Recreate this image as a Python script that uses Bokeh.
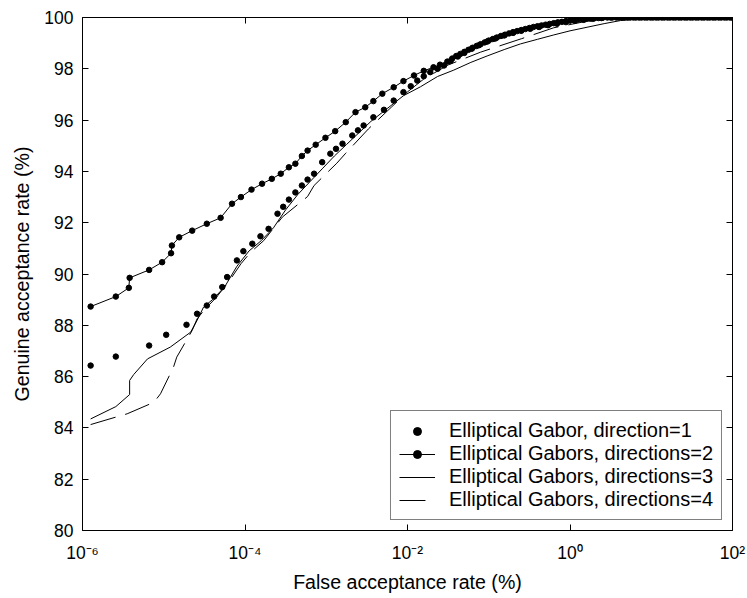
from bokeh.plotting import figure
from bokeh.models import Range1d, FixedTicker, LinearAxis, LogAxis, Legend, LegendItem
from bokeh.embed import file_html
from bokeh.resources import INLINE

# ---------------- data ----------------
x_ticks = [1e-6, 1e-4, 1e-2, 1e0, 1e2]
x_tick_labels = ["10\u207b\u2076", "10\u207b\u2074", "10\u207b\u00b2", "10\u2070", "10\u00b2"]
y_ticks = [80, 82, 84, 86, 88, 90, 92, 94, 96, 98, 100]

# Series 1: Elliptical Gabor, direction=1 (markers only) -- log10(FAR %) and GAR %
s1_exp = [-5.90, -5.59, -5.18, -4.97, -4.72, -4.59, -4.47, -4.38, -4.28, -4.22,
          -4.10, -4.02, -3.91, -3.81, -3.71, -3.60, -3.53, -3.46, -3.38, -3.30,
          -3.23, -3.15, -3.05, -2.95, -2.88, -2.80, -2.68, -2.61, -2.54, -2.42,
          -2.29, -2.17, -2.05, -1.96, -1.88, -1.80, -1.72, -1.63, -1.55, -1.47,
          -1.38, -1.30, -1.21, -1.12, -1.02, -0.92, -0.81, -0.70, -0.60, -0.49,
          -0.38, -0.27, -0.16, -0.05, 0.06, 0.17, 0.28, 0.39, 0.50, 0.57,
          0.64, 0.71, 0.78, 0.85, 0.92, 0.99, 1.06, 1.13, 1.20, 1.27,
          1.34, 1.41, 1.48, 1.55, 1.62, 1.69, 1.76, 1.83, 1.90, 1.97, 2.00]
s1_gar = [86.43, 86.78, 87.21, 87.63, 88.02, 88.45, 88.77, 89.12, 89.49, 89.88,
          90.53, 90.89, 91.18, 91.47, 91.76, 92.35, 92.62, 92.90, 93.18, 93.45,
          93.68, 93.91, 94.36, 94.69, 94.88, 95.08, 95.40, 95.60, 95.79, 96.11,
          96.40, 96.76, 97.09, 97.32, 97.54, 97.71, 97.87, 98.00, 98.13, 98.30,
          98.48, 98.62, 98.78, 98.92, 99.06, 99.18, 99.30, 99.40, 99.48, 99.56,
          99.63, 99.70, 99.76, 99.82, 99.87, 99.91, 99.95, 99.98, 100.0, 100.0,
          100.0, 100.0, 100.0, 100.0, 100.0, 100.0, 100.0, 100.0, 100.0, 100.0,
          100.0, 100.0, 100.0, 100.0, 100.0, 100.0, 100.0, 100.0, 100.0, 100.0, 100.0]

# Series 2: Elliptical Gabors, directions=2 (line + markers)
s2_exp = [-5.90, -5.59, -5.43, -5.42, -5.18, -5.02, -4.91, -4.90, -4.81, -4.65,
          -4.47, -4.30, -4.16, -4.05, -3.92, -3.79, -3.67, -3.56, -3.46, -3.38,
          -3.30, -3.23, -3.13, -3.01, -2.89, -2.76, -2.64, -2.52, -2.42, -2.31,
          -2.17, -2.05, -1.92, -1.80, -1.68, -1.60, -1.51, -1.45, -1.40, -1.35,
          -1.30, -1.25, -1.20, -1.15, -1.10, -1.05, -1.00, -0.95, -0.90, -0.85,
          -0.80, -0.75, -0.70, -0.65, -0.60, -0.55, -0.50, -0.45, -0.40, -0.35,
          -0.30, -0.25, -0.20, -0.15, -0.10, -0.05, 0.00, 0.05, 0.10, 0.15,
          0.20, 0.25, 0.30, 0.35, 0.40, 0.46, 0.52, 0.60, 0.67, 0.74,
          0.81, 0.88, 0.95, 1.02, 1.09, 1.16, 1.23, 1.30, 1.37, 1.44,
          1.51, 1.58, 1.65, 1.72, 1.79, 1.86, 1.93, 2.00]
s2_gar = [88.73, 89.12, 89.46, 89.85, 90.16, 90.46, 90.81, 91.11, 91.43, 91.69,
          91.96, 92.19, 92.74, 93.00, 93.29, 93.52, 93.71, 93.91, 94.16, 94.30,
          94.60, 94.81, 95.04, 95.31, 95.57, 95.92, 96.31, 96.50, 96.74, 97.03,
          97.28, 97.52, 97.74, 97.92, 98.06, 98.16, 98.28, 98.40, 98.50, 98.58,
          98.66, 98.74, 98.82, 98.89, 98.96, 99.03, 99.10, 99.16, 99.22, 99.28,
          99.33, 99.38, 99.43, 99.47, 99.51, 99.55, 99.59, 99.63, 99.66, 99.69,
          99.72, 99.75, 99.78, 99.81, 99.83, 99.86, 99.88, 99.90, 99.92, 99.94,
          99.95, 99.96, 99.97, 99.98, 99.99, 100.0, 100.0, 100.0, 100.0, 100.0,
          100.0, 100.0, 100.0, 100.0, 100.0, 100.0, 100.0, 100.0, 100.0, 100.0,
          100.0, 100.0, 100.0, 100.0, 100.0, 100.0, 100.0, 100.0]

# Series 3: Elliptical Gabors, directions=3 (solid line)
s3_exp = [-5.90, -5.59, -5.42, -5.42, -5.37, -5.20, -4.92, -4.67, -4.59, -4.51,
          -4.40, -4.25, -4.10, -3.95, -3.80, -3.65, -3.50, -3.35, -3.20, -3.05,
          -2.90, -2.75, -2.60, -2.45, -2.25, -2.05, -1.84, -1.63, -1.43, -1.22,
          -1.02, -0.81, -0.61, -0.40, -0.20, 0.00, 0.21, 0.42, 0.62, 0.83, 1.03, 2.00]
s3_gar = [84.35, 84.83, 85.30, 85.85, 86.08, 86.69, 87.15, 87.73, 88.19, 88.71,
          89.00, 89.50, 90.30, 90.90, 91.30, 91.80, 92.50, 93.10, 93.60, 94.10,
          94.60, 95.05, 95.50, 95.95, 96.45, 96.95, 97.30, 97.70, 97.95, 98.25,
          98.50, 98.75, 98.97, 99.15, 99.32, 99.48, 99.62, 99.76, 99.88, 99.95, 100.0, 100.0]

# Series 4: Elliptical Gabors, directions=4 (dashed line)
s4_exp = [-5.90, -5.57, -5.45, -5.12, -5.04, -4.88, -4.84, -4.65, -4.59, -4.50,
          -4.35, -4.20, -4.05, -3.93, -3.77, -3.54, -3.23, -3.15, -2.87, -2.76,
          -2.48, -2.20, -2.00, -1.80, -1.50, -1.10, -0.60, -0.20, 0.20, 0.50, 0.80, 2.00]
s4_gar = [84.13, 84.44, 84.55, 85.00, 85.33, 86.37, 86.76, 87.80, 88.25, 88.60,
          89.10, 89.70, 90.40, 90.85, 91.30, 92.22, 93.02, 93.45, 94.32, 94.71,
          95.66, 96.50, 97.10, 97.60, 98.15, 98.65, 99.17, 99.60, 99.85, 99.97, 100.0, 100.0]

labels = ["Elliptical Gabor, direction=1",
          "Elliptical Gabors, directions=2",
          "Elliptical Gabors, directions=3",
          "Elliptical Gabors, directions=4"]

x_title = "False acceptance rate (%)"
y_title = "Genuine acceptance rate (%)"

# ---------------- figure ----------------
FONT = "Liberation Sans"

def far(exps):
    return [10.0 ** e for e in exps]

p = figure(width=747, height=598, x_axis_type="log",
           x_range=Range1d(1e-6, 1e2), y_range=Range1d(80, 100),
           output_backend="svg", toolbar_location=None,
           min_border_left=82, min_border_right=15,
           min_border_top=17, min_border_bottom=68)
p.background_fill_color = "white"
p.border_fill_color = "white"
p.outline_line_color = None
p.grid.visible = False

r1 = p.scatter(far(s1_exp), s1_gar, marker="circle", size=5.5, color="black")
r2l = p.line(far(s2_exp), s2_gar, line_color="black", line_width=1)
r2m = p.scatter(far(s2_exp), s2_gar, marker="circle", size=5.5, color="black")
r3 = p.line(far(s3_exp), s3_gar, line_color="black", line_width=1)
r4 = p.line(far(s4_exp), s4_gar, line_color="black", line_width=1, line_dash="26 10")

def style_axis(ax, show_labels):
    ax.major_tick_in = 6
    ax.major_tick_out = 0
    ax.minor_tick_line_color = None
    ax.axis_line_color = "black"
    ax.axis_line_width = 1
    ax.major_tick_line_color = "black"
    ax.major_label_text_font = FONT
    ax.major_label_text_color = "black"
    if not show_labels:
        ax.major_label_text_font_size = "2px"
        ax.major_label_text_color = None
        ax.major_label_standoff = 0

p.xaxis.ticker = FixedTicker(ticks=x_ticks)
p.xaxis.major_label_overrides = dict(zip(x_ticks, x_tick_labels))
p.yaxis.ticker = FixedTicker(ticks=y_ticks)
for ax in p.xaxis + p.yaxis:
    style_axis(ax, True)
    ax.major_label_text_font_size = "17.5px"
    ax.axis_label_text_font = FONT
    ax.axis_label_text_font_size = "19.6px"
    ax.axis_label_text_font_style = "normal"
    ax.axis_label_text_color = "black"

p.xaxis.major_label_standoff = 12
p.yaxis.major_label_standoff = 9
p.xaxis.axis_label = x_title
p.yaxis.axis_label = y_title
p.xaxis.axis_label_standoff = 5
p.yaxis.axis_label_standoff = 8

top_ax = LogAxis(ticker=FixedTicker(ticks=x_ticks))
style_axis(top_ax, False)
p.add_layout(top_ax, "above")
right_ax = LinearAxis(ticker=FixedTicker(ticks=y_ticks))
style_axis(right_ax, False)
p.add_layout(right_ax, "right")

legend = Legend(items=[
    LegendItem(label=labels[0], renderers=[r1]),
    LegendItem(label=labels[1], renderers=[r2l, r2m]),
    LegendItem(label=labels[2], renderers=[r3]),
    LegendItem(label=labels[3], renderers=[r4]),
], location="bottom_right")
legend.margin = 10
legend.padding = 8
legend.spacing = -2
legend.glyph_width = 36
legend.glyph_height = 20
legend.label_height = 20
legend.label_standoff = 14
legend.label_text_font = FONT
legend.label_text_font_size = "20px"
legend.label_text_color = "black"
legend.border_line_color = "black"
legend.border_line_width = 1
legend.background_fill_color = "white"
legend.background_fill_alpha = 1.0
p.add_layout(legend)

open("out.html", "w").write(file_html(p, INLINE))
